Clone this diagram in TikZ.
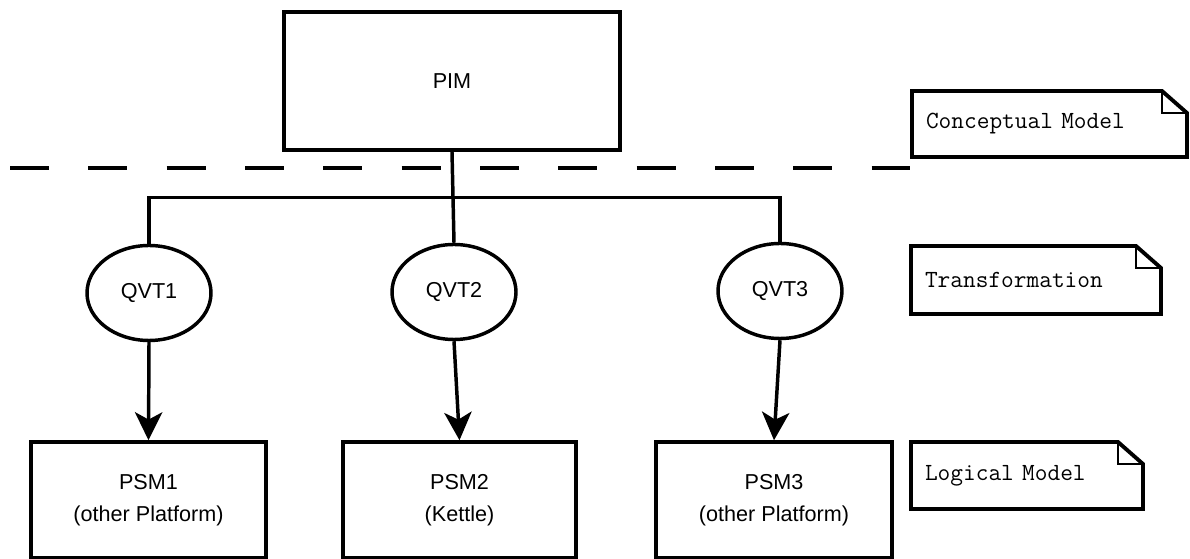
\documentclass[tikz,border=0pt]{standalone}
\usepackage{fontspec}
\setmainfont{Liberation Sans}
\usetikzlibrary{arrows.meta,shapes.geometric}

\tikzset{
  stroke/.style={line width=2.6pt},
  modelbox/.style={draw, stroke, rectangle, inner sep=0pt, align=center,
    font=\fontsize{16.2}{24}\selectfont},
  qvt/.style={draw, stroke, ellipse, inner sep=0pt, minimum width=93pt,
    minimum height=71.25pt, font=\fontsize{16.2}{24}\selectfont},
  link/.style={stroke},
  flow/.style={stroke, -{Stealth[length=21pt, width=20.5pt, inset=5.5pt]}},
  layerline/.style={stroke, dash pattern=on 29.25pt off 29.5pt},
  note/.style={rectangle, inner xsep=10.5pt, inner ysep=0pt, outer sep=0pt,
    align=left, font=\ttfamily\fontsize{18.5}{22}\selectfont},
  noteedge/.style={line width=2.9pt, line join=miter},
  notefold/.style={line width=0.8pt},
}

\begin{document}
\begin{tikzpicture}[x=0.75pt, y=-0.75pt]
  \useasboundingbox (0,0) rectangle (1190,559);

  % platform independent model
  \node[modelbox, minimum width=252pt, minimum height=103.5pt] (pim) at (452,81) {PIM};

  % boundary between conceptual and logical layers
  \coordinate (sepL) at (10,168);
  \coordinate (sepR) at (910,168);
  \draw[layerline] (sepL) -- (sepR);

  % transformations
  \node[qvt] (qvt1) at (149,293) {QVT1};
  \node[qvt] (qvt2) at (454,292) {QVT2};
  \node[qvt] (qvt3) at (780,291) {QVT3};

  % platform specific models
  \node[modelbox, minimum width=176.25pt, minimum height=87pt] (psm1) at (148.5,500)
    {PSM1\\(other Platform)};
  \node[modelbox, minimum width=174.75pt, minimum height=87pt] (psm2) at (459.5,500)
    {PSM2\\(Kettle)};
  \node[modelbox, minimum width=177pt, minimum height=87pt] (psm3) at (774,500)
    {PSM3\\(other Platform)};

  % PIM feeds every transformation
  \draw[link] (pim.south) -- (qvt2.north);
  \draw[link] (qvt1.north) -- ++(0,-46) -| (qvt3.north);

  % transformations produce the PSMs
  \draw[flow] (qvt1.south) -- (psm1.north);
  \draw[flow] (qvt2.south) -- (psm2.north);
  \draw[flow] (qvt3.south) -- (psm3.north);

  % layer notes
  \node[note, text width=185.25pt, minimum height=49.5pt] (cm) at (1049.5,124) {Conceptual Model};
  \node[note, text width=166.5pt, minimum height=51pt] (tr) at (1036,280) {Transformation};
  \node[note, text width=153pt, minimum height=50.25pt] (lm) at (1027,475.5) {Logical Model};

  \foreach \n in {cm,tr,lm} {
    \draw[noteedge] (\n.north west) -- ([xshift=-18.75pt]\n.north east)
      -- ([yshift=-16.5pt]\n.north east) -- (\n.south east) -- (\n.south west) -- cycle;
    \draw[notefold] ([xshift=-18.75pt]\n.north east) |- ([yshift=-16.5pt]\n.north east);
  }
\end{tikzpicture}
\end{document}
